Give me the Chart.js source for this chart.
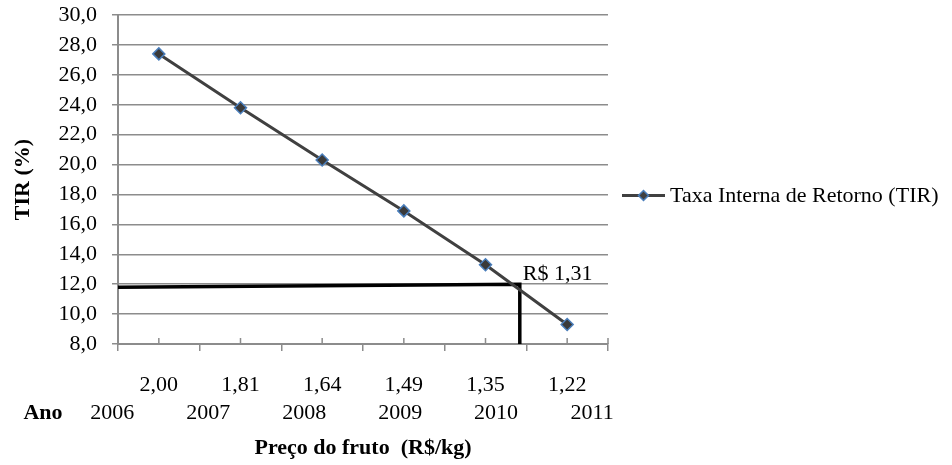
<!DOCTYPE html>
<html>
<head>
<meta charset="utf-8">
<script src="https://cdn.jsdelivr.net/npm/chart.js@4.4.0/dist/chart.umd.min.js"></script>
<style>
    body { margin: 0; background: #fff; }
</style>
</head>
<body>
<canvas id="tirChart" width="952" height="465"></canvas>
<script>
// dados
const precos = ['2,00', '1,81', '1,64', '1,49', '1,35', '1,22'];
const anos = ['2006', '2007', '2008', '2009', '2010', '2011'];
const tirValores = [27.4, 23.8, 20.3, 16.9, 13.3, 9.3];
const serieNome = 'Taxa Interna de Retorno (TIR)';

// linha de referencia (preco de equilibrio)
const refLinha = [
    { x: -0.5, y: 11.8 },
    { x: 4.42, y: 12.0 },
    { x: 4.42, y: 8.0 }
];
const refTexto = 'R$ 1,31';

const yMin = 8;
const yMax = 30;
const yStep = 2;

const serif = "'Liberation Serif', 'Times New Roman', serif";
const gridColor = '#8c8c8c';
const lineColor = '#404040';
const markerBorder = '#4a7ebb';

const extras = {
    id: 'extras',
    afterDraw(chart) {
        const ctx = chart.ctx;
        const x = chart.scales.x;
        const y = chart.scales.y;
        const area = chart.chartArea;

        ctx.save();

        // pequenos tracos para cima no eixo x
        ctx.strokeStyle = gridColor;
        ctx.lineWidth = 1.5;
        ctx.beginPath();
        precos.forEach((p, i) => {
            const px = x.getPixelForValue(i);
            ctx.moveTo(px, area.bottom);
            ctx.lineTo(px, area.bottom - 6);
        });
        ctx.moveTo(area.right, area.bottom);
        ctx.lineTo(area.right, area.bottom - 6);
        ctx.stroke();

        // anos abaixo dos precos
        ctx.fillStyle = '#000';
        ctx.textBaseline = 'middle';
        ctx.textAlign = 'center';
        ctx.font = '22px ' + serif;
        const yAnos = x.top + 69;
        anos.forEach((a, i) => {
            ctx.fillText(a, x.getPixelForValue(-0.57 + i * 1.175), yAnos);
        });
        ctx.font = 'bold 22px ' + serif;
        ctx.fillText('Ano', 43, yAnos);

        // rotulo da linha de referencia
        ctx.font = '22px ' + serif;
        ctx.textAlign = 'left';
        ctx.fillText(refTexto, x.getPixelForValue(refLinha[1].x) + 3, y.getPixelForValue(refLinha[1].y) - 10);

        // legenda
        const ly = (area.top + area.bottom) / 2 + 16;
        const lx = area.right + 14;
        ctx.strokeStyle = lineColor;
        ctx.lineWidth = 3;
        ctx.beginPath();
        ctx.moveTo(lx, ly);
        ctx.lineTo(lx + 43, ly);
        ctx.stroke();
        ctx.fillStyle = lineColor;
        ctx.strokeStyle = markerBorder;
        ctx.lineWidth = 1.5;
        ctx.beginPath();
        ctx.moveTo(lx + 21.5 - 5, ly);
        ctx.lineTo(lx + 21.5, ly - 5);
        ctx.lineTo(lx + 21.5 + 5, ly);
        ctx.lineTo(lx + 21.5, ly + 5);
        ctx.closePath();
        ctx.fill();
        ctx.stroke();
        ctx.fillStyle = '#000';
        ctx.font = '22px ' + serif;
        ctx.fillText(serieNome, lx + 48, ly + 1);

        ctx.restore();
    }
};

const ctx = document.getElementById('tirChart').getContext('2d');
new Chart(ctx, {
    type: 'line',
    data: {
        labels: precos,
        datasets: [{
            label: serieNome,
            data: tirValores,
            borderColor: lineColor,
            borderWidth: 3,
            backgroundColor: lineColor,
            pointStyle: 'rectRot',
            pointRadius: 6,
            pointBackgroundColor: '#3a3a3a',
            pointBorderColor: markerBorder,
            pointBorderWidth: 1.5,
            tension: 0,
            order: 0
        }, {
            label: 'referencia',
            data: refLinha,
            xAxisID: 'x2',
            borderColor: '#000',
            borderWidth: 3.5,
            borderJoinStyle: 'miter',
            pointRadius: 0,
            fill: false,
            tension: 0,
            order: 1
        }]
    },
    options: {
        responsive: false,
        animation: false,
        layout: {
            padding: { top: 15, right: 344, bottom: 0, left: 0 }
        },
        plugins: {
            legend: { display: false },
            tooltip: { enabled: false }
        },
        scales: {
            x: {
                type: 'category',
                offset: true,
                grid: {
                    offset: true,
                    drawOnChartArea: false,
                    color: gridColor,
                    lineWidth: 1.5,
                    tickLength: 7
                },
                border: { color: gridColor, width: 2 },
                ticks: {
                    color: '#000',
                    font: { family: serif, size: 22 },
                    padding: 21,
                    maxRotation: 0,
                    autoSkip: false
                },
                title: {
                    display: true,
                    text: 'Preço do fruto  (R$/kg)',
                    color: '#000',
                    font: { family: serif, size: 22, weight: 'bold' },
                    padding: { top: 0, bottom: 3 }
                },
                afterFit(scale) {
                    scale.height = 121;
                    scale.paddingLeft = 0;
                    scale.paddingRight = 0;
                }
            },
            x2: {
                type: 'linear',
                display: false,
                min: -0.5,
                max: 5.5
            },
            y: {
                min: yMin,
                max: yMax,
                ticks: {
                    stepSize: yStep,
                    autoSkip: false,
                    color: '#000',
                    font: { family: serif, size: 22 },
                    padding: 15,
                    callback: v => v.toFixed(1).replace('.', ',')
                },
                grid: {
                    color: gridColor,
                    lineWidth: 1.5,
                    tickLength: 6
                },
                border: { color: gridColor, width: 2 },
                title: {
                    display: true,
                    text: 'TIR (%)',
                    color: '#000',
                    font: { family: serif, size: 22, weight: 'bold' },
                    padding: { top: 10, bottom: 0 }
                },
                afterFit(scale) {
                    scale.width = 118;
                    scale.paddingTop = 0;
                    scale.paddingBottom = 0;
                }
            }
        }
    },
    plugins: [extras]
});
</script>
</body>
</html>
